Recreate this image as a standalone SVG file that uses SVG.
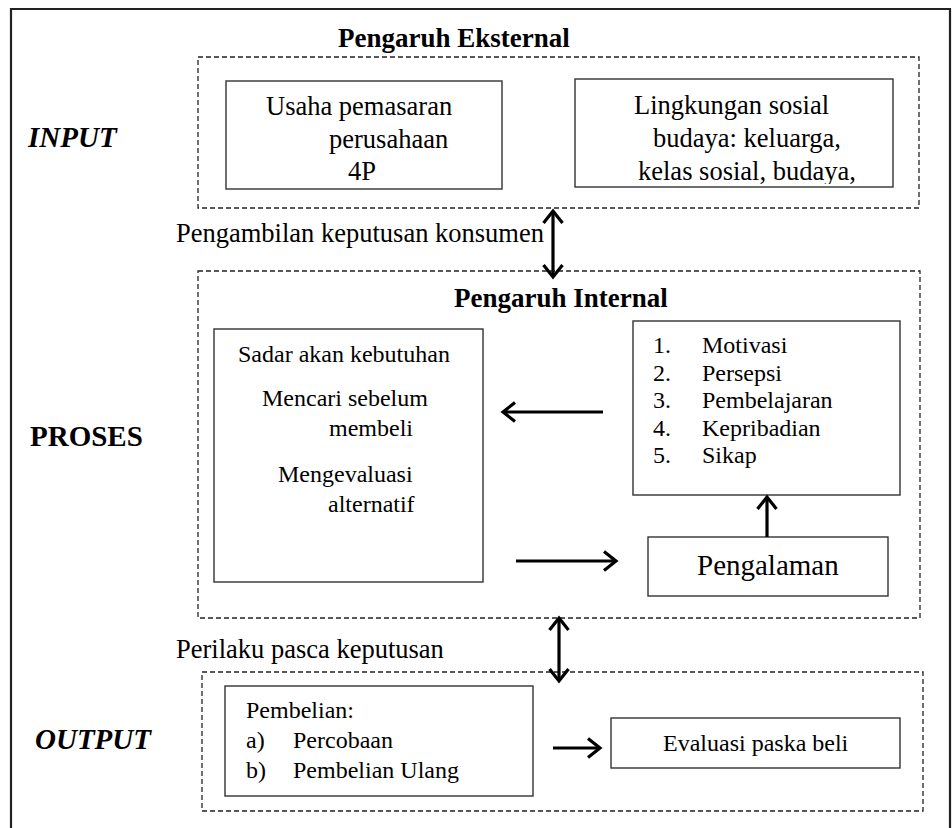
<svg xmlns="http://www.w3.org/2000/svg" width="952" height="828" viewBox="0 0 952 828">
<style>
text{font-family:"Liberation Serif","Times New Roman",serif;fill:#000}
.t{font-size:27px;font-weight:bold}
.side{font-size:29px;font-weight:bold}
.it{font-style:italic}
.in{font-size:26.5px}
.lbl{font-size:26.5px}
.p{font-size:24px}
.dash{fill:none;stroke:#222;stroke-width:1.3;stroke-dasharray:5 3}
.box{fill:#fff;stroke:#333;stroke-width:1.4}
.arr{fill:none;stroke:#000;stroke-width:3.2}
</style>
<defs>
<marker id="h" viewBox="-15 -12 18 24" refX="0" refY="0" markerWidth="18" markerHeight="24" markerUnits="userSpaceOnUse" orient="auto-start-reverse">
<path d="M-12,-9.5 L0,0 L-12,9.5" fill="none" stroke="#000" stroke-width="3.2" stroke-linejoin="miter"/>
</marker>
<clipPath id="c1"><rect x="576" y="80" width="320" height="104"/></clipPath>
</defs>
<rect width="952" height="828" fill="#fff"/>
<path id="frame" d="M11,828 V9 H950 V828" fill="none" stroke="#222" stroke-width="2.2"/>

<g id="input-label"><text class="side it" x="28" y="147">INPUT</text></g>
<g id="proses-label"><text class="side" x="30" y="446">PROSES</text></g>
<g id="output-label"><text class="side it" x="35" y="749">OUTPUT</text></g>

<g id="eksternal">
<text class="t" x="338" y="47">Pengaruh Eksternal</text>
<rect class="dash" x="198" y="57" width="721" height="151"/>
</g>
<g id="usaha">
<rect class="box" x="226" y="81" width="276" height="108"/>
<text class="in" x="266" y="115">Usaha pemasaran</text>
<text class="in" x="329" y="148">perusahaan</text>
<text class="in" x="348" y="180">4P</text>
</g>
<g id="lingkungan">
<rect class="box" x="575" y="79" width="318" height="108"/>
<g clip-path="url(#c1)">
<text class="in" x="634" y="114">Lingkungan sosial</text>
<text class="in" x="653" y="147">budaya: keluarga,</text>
<text class="in" x="638" y="180">kelas sosial, budaya,</text>
</g>
</g>

<g id="label-keputusan"><text class="lbl" x="176" y="242">Pengambilan keputusan konsumen</text></g>

<g id="internal">
<rect class="dash" x="198" y="271" width="722" height="347"/>
<text class="t" x="454" y="307">Pengaruh Internal</text>
</g>
<g id="proses-box">
<rect class="box" x="214" y="329" width="269" height="253"/>
<text class="p" x="238" y="362">Sadar akan kebutuhan</text>
<text class="p" x="262" y="406">Mencari sebelum</text>
<text class="p" x="329" y="436">membeli</text>
<text class="p" x="278" y="482">Mengevaluasi</text>
<text class="p" x="328" y="512">alternatif</text>
</g>
<g id="faktor">
<rect class="box" x="633" y="321" width="267" height="174"/>
<text class="p" x="653" y="353">1.</text><text class="p" x="702" y="353">Motivasi</text>
<text class="p" x="653" y="381">2.</text><text class="p" x="702" y="381">Persepsi</text>
<text class="p" x="653" y="408">3.</text><text class="p" x="702" y="408">Pembelajaran</text>
<text class="p" x="653" y="436">4.</text><text class="p" x="702" y="436">Kepribadian</text>
<text class="p" x="653" y="463">5.</text><text class="p" x="702" y="463">Sikap</text>
</g>
<g id="pengalaman">
<rect class="box" x="648" y="537" width="240" height="59"/>
<text x="697" y="575" style="font-size:29px">Pengalaman</text>
</g>

<g id="label-pasca"><text class="lbl" x="176" y="658">Perilaku pasca keputusan</text></g>

<g id="output">
<rect class="dash" x="202" y="672" width="721" height="139"/>
</g>
<g id="pembelian">
<rect class="box" x="225" y="686" width="308" height="110"/>
<text class="p" x="246" y="718">Pembelian:</text>
<text class="p" x="246" y="748">a)</text><text class="p" x="293" y="748">Percobaan</text>
<text class="p" x="246" y="778">b)</text><text class="p" x="293" y="778">Pembelian Ulang</text>
</g>
<g id="evaluasi">
<rect class="box" x="611" y="718" width="289" height="50"/>
<text class="p" x="663" y="751">Evaluasi paska beli</text>
</g>

<g id="connectors">
<line class="arr" x1="553" y1="211" x2="553" y2="277" marker-start="url(#h)" marker-end="url(#h)"/>
<line class="arr" x1="603" y1="412" x2="503" y2="412" marker-end="url(#h)"/>
<line class="arr" x1="516" y1="561" x2="616" y2="561" marker-end="url(#h)"/>
<line class="arr" x1="767" y1="537" x2="767" y2="497" marker-end="url(#h)"/>
<line class="arr" x1="559" y1="618" x2="559" y2="681" marker-start="url(#h)" marker-end="url(#h)"/>
<line class="arr" x1="553" y1="748" x2="600" y2="748" marker-end="url(#h)"/>
</g>
</svg>
